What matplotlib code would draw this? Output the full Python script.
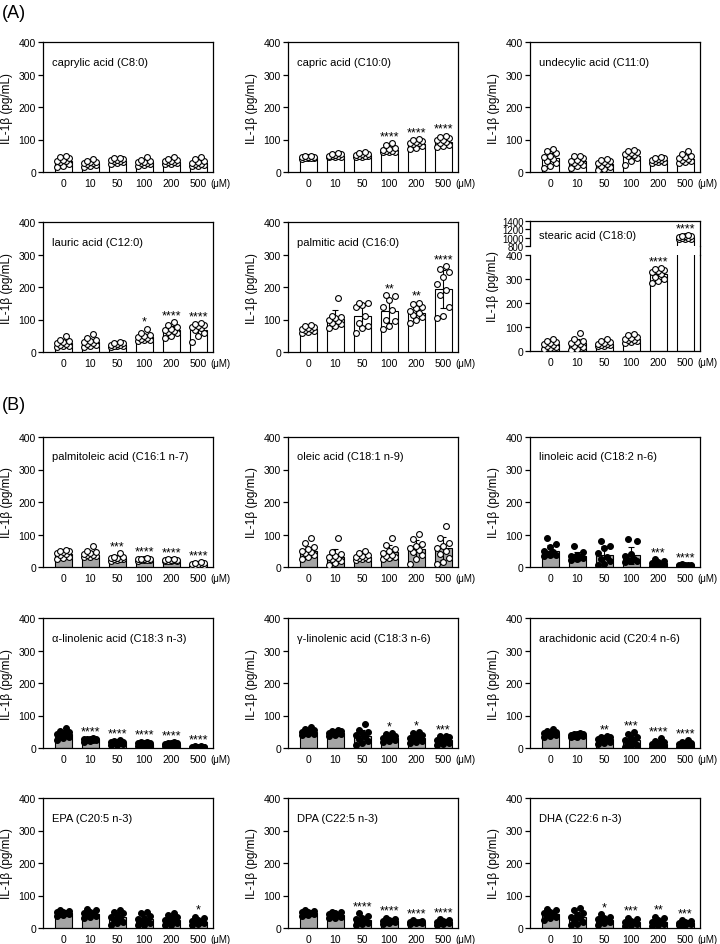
import numpy as np
import matplotlib
matplotlib.use('Agg')
import matplotlib.pyplot as plt
from matplotlib.lines import Line2D

plt.rcParams['font.family'] = ['Liberation Sans', 'DejaVu Sans']

doses = ['0', '10', '50', '100', '200', '500']

# ---- (A) saturated fatty acids ----
c8_mean = [35, 28, 35, 30, 32, 28]
c8_sd = [11, 7, 5, 6, 6, 8]
c8_pts = [[48, 45, 42, 38, 35, 33, 30, 25, 20, 15],
          [40, 35, 32, 30, 28, 27, 25, 22, 20, 15],
          [44, 42, 40, 38, 36, 35, 33, 30, 28, 25],
          [45, 38, 35, 32, 30, 28, 27, 25, 22, 20],
          [46, 40, 38, 35, 33, 32, 30, 28, 26, 25],
          [46, 40, 35, 32, 28, 26, 24, 22, 20, 18]]
c8_stars = ['', '', '', '', '', '']

c10_mean = [45, 50, 52, 68, 87, 93]
c10_sd = [3, 4, 5, 7, 10, 12]
c10_pts = [[50, 48, 47, 46, 45, 44, 44, 43, 42, 41],
           [58, 56, 54, 52, 50, 49, 48, 47, 46, 45],
           [63, 58, 56, 54, 52, 50, 49, 48, 47, 46],
           [88, 82, 75, 70, 68, 66, 64, 63, 62, 61],
           [102, 100, 95, 92, 90, 88, 85, 80, 75, 72],
           [112, 108, 105, 100, 97, 92, 88, 84, 80, 76]]
c10_stars = ['', '', '', '****', '****', '****']

c11_mean = [42, 33, 25, 50, 36, 40]
c11_sd = [18, 12, 10, 13, 6, 12]
c11_pts = [[72, 65, 58, 50, 45, 40, 35, 28, 20, 12],
           [50, 48, 42, 38, 35, 32, 28, 22, 18, 12],
           [40, 38, 35, 30, 27, 24, 20, 15, 10, 6],
           [68, 65, 62, 58, 55, 52, 48, 42, 35, 22],
           [45, 43, 42, 40, 38, 36, 34, 32, 30, 28],
           [66, 55, 50, 45, 42, 40, 38, 35, 30, 27]]
c11_stars = ['', '', '', '', '', '']

c12_mean = [28, 30, 22, 45, 67, 68]
c12_sd = [10, 10, 5, 10, 13, 17]
c12_pts = [[50, 38, 35, 32, 28, 25, 22, 20, 18, 15],
           [55, 42, 38, 35, 30, 28, 25, 22, 18, 15],
           [30, 28, 27, 25, 23, 22, 20, 18, 17, 15],
           [72, 58, 52, 48, 45, 42, 40, 38, 36, 35],
           [92, 82, 78, 72, 68, 65, 62, 58, 50, 42],
           [88, 86, 82, 80, 78, 75, 68, 60, 50, 32]]
c12_stars = ['', '', '', '*', '****', '****']

c16_mean = [70, 102, 111, 125, 121, 194]
c16_sd = [8, 26, 34, 35, 18, 58]
c16_pts = [[82, 80, 78, 75, 72, 70, 68, 65, 62, 58],
           [165, 112, 108, 104, 100, 95, 90, 85, 80, 75],
           [152, 150, 145, 140, 110, 90, 80, 75, 60],
           [175, 172, 160, 140, 130, 100, 95, 80, 72],
           [152, 148, 140, 135, 125, 120, 115, 108, 100, 90],
           [265, 255, 245, 230, 210, 190, 175, 140, 110, 105]]
c16_stars = ['', '', '', '**', '**', '****']

c18_mean = [28, 32, 30, 48, 320, 1010]
c18_sd = [12, 18, 8, 10, 20, 40]
c18_pts = [[50, 42, 38, 32, 28, 25, 20, 18, 12, 8],
           [75, 50, 42, 38, 32, 28, 22, 15, 10, 5],
           [48, 40, 36, 33, 30, 28, 26, 24, 22, 20],
           [70, 65, 60, 55, 50, 47, 44, 42, 38, 35],
           [345, 340, 338, 335, 330, 320, 310, 300, 290, 285],
           [1055, 1050, 1040, 1030, 1020, 1000, 990, 980, 970, 960]]
c18_stars = ['', '', '', '', '****', '****']

# ---- (B) unsaturated fatty acids ----
c161_mean = [40, 38, 27, 23, 21, 8]
c161_sd = [9, 10, 6, 2, 2, 4]
c161_pts = [[52, 50, 48, 45, 42, 40, 36, 32, 28, 25],
            [65, 48, 45, 42, 40, 38, 36, 34, 32, 30],
            [42, 32, 30, 28, 27, 26, 25, 24, 22, 20],
            [27, 26, 25, 24, 24, 23, 22, 22, 21, 20],
            [25, 24, 23, 22, 21, 21, 20, 19, 18, 17],
            [15, 13, 12, 10, 9, 8, 6, 5, 3, 2]]
c161_stars = ['', '', '***', '****', '****', '****']

c181_mean = [50, 32, 32, 45, 56, 57]
c181_sd = [13, 23, 8, 22, 27, 34]
c181_pts = [[88, 75, 62, 55, 50, 45, 42, 38, 30, 25],
            [88, 45, 40, 35, 30, 28, 25, 20, 12, 5],
            [50, 42, 38, 35, 32, 30, 28, 26, 24, 22],
            [90, 68, 55, 48, 42, 38, 35, 30, 28, 25],
            [102, 85, 70, 65, 58, 52, 45, 38, 25, 10],
            [127, 90, 75, 65, 58, 50, 40, 28, 15, 8]]
c181_stars = ['', '', '', '', '', '']

c182_mean = [50, 33, 36, 36, 12, 5]
c182_sd = [18, 14, 28, 26, 8, 3]
c182_pts = [[88, 72, 62, 50, 45, 40, 38, 36, 35],
            [65, 45, 38, 35, 32, 30, 28, 25, 22],
            [80, 65, 58, 42, 30, 25, 20, 10, 5],
            [85, 80, 40, 35, 25, 22, 20, 18, 15],
            [25, 20, 15, 12, 10, 8, 6, 4, 3],
            [8, 7, 6, 5, 5, 4, 3, 3, 2]]
c182_stars = ['', '', '', '', '***', '****']

ala_mean = [43, 27, 17, 13, 12, 3]
ala_sd = [10, 3, 5, 5, 4, 2]
ala_pts = [[63, 52, 48, 45, 43, 40, 38, 35, 30, 25],
           [30, 29, 28, 27, 27, 26, 25, 24, 22, 20],
           [25, 22, 20, 18, 17, 16, 15, 13, 10, 8],
           [20, 18, 16, 15, 14, 12, 10, 8, 6, 5],
           [17, 16, 15, 14, 12, 11, 10, 8, 6, 5],
           [6, 5, 4, 4, 3, 3, 2, 2, 1, 0]]
ala_stars = ['', '****', '****', '****', '****', '****']

gla_mean = [50, 47, 38, 32, 32, 25]
gla_sd = [7, 6, 17, 8, 12, 10]
gla_pts = [[65, 58, 54, 52, 50, 48, 46, 44, 42, 40],
           [55, 53, 51, 49, 47, 46, 45, 43, 40, 38],
           [75, 55, 50, 45, 40, 35, 28, 22, 15, 10],
           [45, 42, 38, 35, 32, 30, 28, 25, 22, 18],
           [48, 45, 40, 35, 32, 30, 25, 22, 18, 15],
           [38, 36, 34, 30, 26, 22, 18, 15, 12, 8]]
gla_stars = ['', '', '', '*', '*', '***']

ara_mean = [45, 40, 28, 25, 13, 12]
ara_sd = [6, 4, 8, 15, 8, 7]
ara_pts = [[57, 52, 50, 47, 45, 43, 42, 40, 38, 35],
           [45, 44, 43, 42, 41, 40, 38, 37, 35, 33],
           [38, 35, 33, 30, 28, 26, 24, 20, 15, 12],
           [50, 42, 35, 30, 25, 20, 15, 10, 5, 3],
           [30, 22, 18, 15, 12, 10, 8, 6, 4, 3],
           [25, 20, 16, 14, 12, 10, 8, 6, 4, 3]]
ara_stars = ['', '', '**', '***', '****', '****']

epa_mean = [45, 43, 35, 28, 25, 20]
epa_sd = [5, 8, 12, 14, 12, 8]
epa_pts = [[55, 52, 50, 48, 46, 44, 42, 40, 38],
           [58, 55, 50, 45, 42, 40, 38, 35, 30],
           [55, 50, 45, 40, 35, 30, 25, 20, 15, 10],
           [50, 45, 38, 32, 28, 22, 18, 15, 10, 8],
           [45, 40, 35, 30, 25, 22, 18, 15, 10, 8],
           [35, 30, 25, 22, 20, 18, 15, 12, 10]]
epa_stars = ['', '', '', '', '', '*']

dpa_mean = [45, 40, 25, 22, 18, 18]
dpa_sd = [5, 6, 10, 6, 4, 5]
dpa_pts = [[55, 52, 50, 48, 46, 44, 42, 40, 38],
           [50, 48, 45, 42, 40, 38, 35, 32, 30],
           [45, 38, 32, 28, 25, 20, 15, 12, 10],
           [32, 28, 25, 23, 22, 20, 18, 15, 12],
           [25, 22, 20, 19, 18, 17, 16, 15, 12],
           [28, 25, 22, 20, 18, 16, 14, 12, 10]]
dpa_stars = ['', '', '****', '****', '****', '****']

dha_mean = [42, 35, 25, 18, 18, 15]
dha_sd = [10, 15, 10, 8, 8, 5]
dha_pts = [[60, 55, 50, 45, 42, 40, 35, 30, 25],
           [62, 55, 45, 40, 35, 30, 25, 18, 12, 8],
           [42, 35, 30, 28, 25, 22, 18, 15, 10],
           [32, 28, 22, 20, 18, 15, 12, 8, 5],
           [35, 30, 25, 20, 18, 15, 12, 8, 5],
           [25, 22, 18, 16, 15, 13, 12, 10, 8]]
dha_stars = ['', '', '*', '***', '**', '***']

W, H = 720, 945
GREY = '#a4a4a4'
OFFS = [-0.22, 0.0, 0.22, -0.11, 0.11]

fig = plt.figure(figsize=(W / 100, H / 100), dpi=100)


def add_ax(left, top, w, h):
    return fig.add_axes([left / W, 1 - (top + h) / H, w / W, h / H])


def style(ax):
    for s in ax.spines.values():
        s.set_linewidth(0.9)
    ax.tick_params(axis='y', direction='out', length=3.5, width=0.9, labelsize=7.5, pad=1.5)
    ax.tick_params(axis='x', length=0, labelsize=7.5, pad=4)
    ax.set_xlim(-0.75, 5.55)


def put_stars(ax, i, s, mean, sd, pts):
    top = max(max(pts[i]), mean[i] + sd[i])
    ax.annotate(s, (i, top), xytext=(0, 0.5), textcoords='offset points',
                ha='center', va='bottom', fontsize=9, annotation_clip=False)


def draw(ax, mean, sd, pts, color, filled):
    x = np.arange(len(doses))
    ax.bar(x, mean, width=0.62, color=color, edgecolor='black', linewidth=0.8, zorder=1)
    ax.errorbar(x, mean, yerr=sd, fmt='none', ecolor='black', elinewidth=0.8,
                capsize=2.5, capthick=0.8, zorder=2)
    for i, g in enumerate(pts):
        vals = np.sort(g)
        xs = i + np.array([OFFS[k % len(OFFS)] for k in range(len(vals))])
        ax.plot(xs, vals, 'o', ms=4.2, mfc='black' if filled else 'white',
                mec='black', mew=0.8, zorder=3)


def unit_label(ax):
    # "(uM)" sits just under the right end of the x axis, level with the tick labels
    ax.annotate('(μM)', xy=(1, 0), xycoords='axes fraction', xytext=(-2, -4),
                textcoords='offset points', fontsize=7, va='top', ha='left')


def panel(left, top, name, mean, sd, pts, stars, color, filled):
    ax = add_ax(left, top, 170, 130)
    draw(ax, mean, sd, pts, color, filled)
    for i, s in enumerate(stars):
        if s:
            put_stars(ax, i, s, mean, sd, pts)
    ax.set_ylim(0, 400)
    ax.set_yticks([0, 100, 200, 300, 400])
    ax.set_xticks(range(len(doses)))
    ax.set_xticklabels(doses)
    style(ax)
    ax.set_ylabel('IL-1β (pg/mL)', fontsize=8.5, labelpad=4)
    ax.text(0.055, 0.85, name, transform=ax.transAxes, fontsize=8, va='center')
    unit_label(ax)
    return ax


cols = [43, 288, 530]

fig.text(2 / W, 1 - 13 / H, '(A)', fontsize=13, va='center', ha='left')
fig.text(2 / W, 1 - 405 / H, '(B)', fontsize=13, va='center', ha='left')

panel(cols[0], 43, 'caprylic acid (C8:0)', c8_mean, c8_sd, c8_pts, c8_stars, 'white', False)
panel(cols[1], 43, 'capric acid (C10:0)', c10_mean, c10_sd, c10_pts, c10_stars, 'white', False)
panel(cols[2], 43, 'undecylic acid (C11:0)', c11_mean, c11_sd, c11_pts, c11_stars, 'white', False)
panel(cols[0], 223, 'lauric acid (C12:0)', c12_mean, c12_sd, c12_pts, c12_stars, 'white', False)
panel(cols[1], 223, 'palmitic acid (C16:0)', c16_mean, c16_sd, c16_pts, c16_stars, 'white', False)

# stearic acid: broken y axis
ax_hi = add_ax(cols[2], 222, 170, 25)
ax_lo = add_ax(cols[2], 256, 170, 96)
for ax in (ax_hi, ax_lo):
    draw(ax, c18_mean, c18_sd, c18_pts, 'white', False)
    style(ax)
ax_hi.set_ylim(800, 1400)
ax_hi.set_yticks([800, 1000, 1200, 1400])
ax_hi.tick_params(axis='y', labelsize=7, pad=1)
ax_hi.spines['bottom'].set_visible(False)
ax_hi.set_xticks([])
ax_lo.set_ylim(0, 400)
ax_lo.set_yticks([0, 100, 200, 300, 400])
ax_lo.spines['top'].set_visible(False)
ax_lo.set_xticks(range(len(doses)))
ax_lo.set_xticklabels(doses)
for i, s in enumerate(c18_stars):
    if s:
        put_stars(ax_lo if c18_mean[i] < 400 else ax_hi, i, s, c18_mean, c18_sd, c18_pts)
ax_hi.text(0.055, 0.45, 'stearic acid (C18:0)', transform=ax_hi.transAxes, fontsize=8, va='center')
unit_label(ax_lo)
fig.text((cols[2] - 37) / W, 1 - 287 / H, 'IL-1β (pg/mL)', rotation=90, fontsize=8.5,
         va='center', ha='center')
xr = (cols[2] + 170) / W
fig.add_artist(Line2D([xr, xr], [1 - 247 / H, 1 - 256 / H], color='black', lw=0.9))

panel(cols[0], 438, 'palmitoleic acid (C16:1 n-7)', c161_mean, c161_sd, c161_pts, c161_stars, GREY, False)
panel(cols[1], 438, 'oleic acid (C18:1 n-9)', c181_mean, c181_sd, c181_pts, c181_stars, GREY, False)
panel(cols[2], 438, 'linoleic acid (C18:2 n-6)', c182_mean, c182_sd, c182_pts, c182_stars, GREY, True)
panel(cols[0], 619, 'α-linolenic acid (C18:3 n-3)', ala_mean, ala_sd, ala_pts, ala_stars, GREY, True)
panel(cols[1], 619, 'γ-linolenic acid (C18:3 n-6)', gla_mean, gla_sd, gla_pts, gla_stars, GREY, True)
panel(cols[2], 619, 'arachidonic acid (C20:4 n-6)', ara_mean, ara_sd, ara_pts, ara_stars, GREY, True)
panel(cols[0], 799, 'EPA (C20:5 n-3)', epa_mean, epa_sd, epa_pts, epa_stars, GREY, True)
panel(cols[1], 799, 'DPA (C22:5 n-3)', dpa_mean, dpa_sd, dpa_pts, dpa_stars, GREY, True)
panel(cols[2], 799, 'DHA (C22:6 n-3)', dha_mean, dha_sd, dha_pts, dha_stars, GREY, True)

fig.savefig('out.png', dpi=100)
